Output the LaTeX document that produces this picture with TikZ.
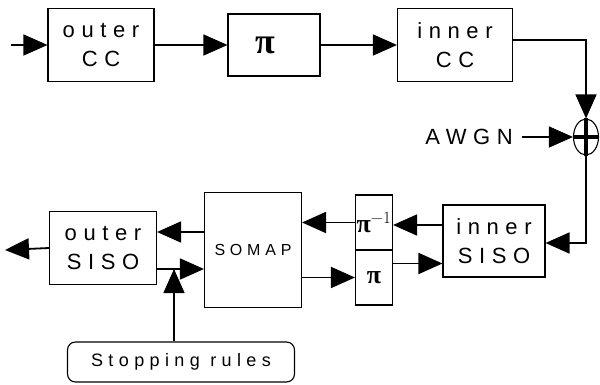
\documentclass[tikz,border=0pt]{standalone}
\usepackage{fontspec}
\newfontfamily\widefont[LetterSpace=30]{Liberation Sans}
\newfontfamily\pifont{Liberation Serif}
\usetikzlibrary{arrows.meta,shapes.geometric}

\begin{document}
\begin{tikzpicture}[x=1pt,y=-1pt,>={Triangle[length=24pt,width=21pt]},
    blk/.style={draw,line width=1.1pt,inner sep=0pt,align=center,
      font=\widefont\fontsize{22}{29}\selectfont},
    pibox/.style={draw,line width=1.1pt,inner sep=0pt,font=\pifont\bfseries},
    lnk/.style={->,line width=1.8pt}]
    \useasboundingbox (0,0) rectangle (600,385);

    % Encoder
    \coordinate (in) at (11,45);
    \node[blk,minimum width=106pt,minimum height=73pt] (occ) at (101,45) {outer\\CC};
    \node[pibox,minimum width=92pt,minimum height=62pt,font=\pifont\bfseries\fontsize{36}{36}\selectfont] (pi1) at (274,45) {\hspace*{-18pt}π};
    \node[blk,minimum width=115pt,minimum height=73pt] (icc) at (455,45) {inner\\CC};

    % Channel
    \node[draw,ellipse,line width=1.1pt,inner sep=0pt,minimum width=25pt,minimum height=36pt] (sum) at (586,137) {};
    \draw[line width=3.5pt] (sum.north) -- (sum.south) (sum.west) -- (sum.east);
    \node[font=\widefont\fontsize{22}{29}\selectfont,inner sep=0pt,anchor=east] (awgn) at (513,137) {AWGN};

    % Decoder
    \node[blk,minimum width=107pt,minimum height=73pt] (osiso) at (103,248) {outer\\SISO};
    \node[draw,line width=1.1pt,inner sep=0pt,minimum width=97pt,minimum height=115pt,
      font=\widefont\fontsize{16}{20}\selectfont] (somap) at (253,250) {SOMAP};
    \node[pibox,minimum width=37pt,minimum height=55pt,font=\pifont\bfseries\fontsize{26}{26}\selectfont] (pinv) at (374,222.5) {π\textsuperscript{\normalfont\fontsize{17}{17}\selectfont −1}};
    \node[pibox,minimum width=37pt,minimum height=55pt,font=\pifont\bfseries\fontsize{26}{26}\selectfont] (pfwd) at (374,277.5) {π};
    \node[blk,minimum width=102pt,minimum height=72pt] (isiso) at (494,241) {inner\\SISO};
    \coordinate (out) at (5,250);
    \node[draw,rounded corners=8pt,line width=1.1pt,inner sep=0pt,minimum width=227pt,minimum height=40pt,
      font=\widefont\fontsize{18}{20}\selectfont] (stop) at (181,362) {Stopping rules};

    % Encoder links
    \draw[lnk,line width=1.4pt] (in) -- (occ.west);
    \draw[lnk,line width=1.4pt] (occ.east) -- (pi1.west);
    \draw[lnk,line width=1.4pt] (pi1.east) -- (icc.west);
    \draw[lnk,line width=1.4pt] ([yshift=5pt]icc.east) -| (sum.north);
    \draw[lnk,line width=1.4pt] ([xshift=9pt]awgn.east) -- (sum.west);
    \draw[lnk] (sum.south) |- ([yshift=-2pt]isiso.east);

    % Iterative loop
    \draw[lnk] ([yshift=16pt]isiso.west) -- ([yshift=16pt]isiso.west -| pinv.east);
    \draw[lnk] (pinv.west) -- (pinv.west -| somap.east);
    \draw[lnk] ([yshift=18pt]somap.west) -- ([yshift=18pt]somap.west -| osiso.east);
    \draw[lnk] (osiso.west) -- (out);
    \draw[lnk] ([yshift=-21pt]osiso.east) coordinate (tap0) -- (tap0 -| somap.west);
    \draw[lnk] (pfwd.west -| somap.east) -- (pfwd.west);
    \draw[lnk] ([yshift=14pt]pfwd.east) -- ([yshift=14pt]pfwd.east -| isiso.west);
    \draw[lnk,line width=1.4pt] ([xshift=-7pt]stop.north) -- ([xshift=-7pt]stop.north |- tap0);
\end{tikzpicture}
\end{document}
